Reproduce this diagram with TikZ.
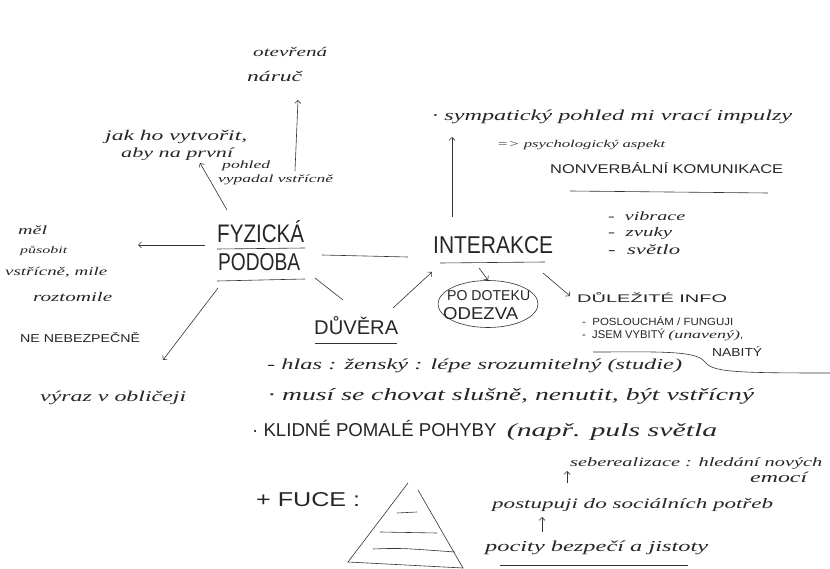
\documentclass[tikz,border=0pt]{standalone}
\usepackage{fontspec}
\usepackage{graphicx}
\usetikzlibrary{arrows.meta,shapes.geometric}
\newfontfamily\hand[FakeStretch=1.6]{Liberation Serif}
\newfontfamily\capsf{Liberation Sans}
\newcommand\hw[2]{\resizebox{#1pt}{!}{\hand\itshape #2}}
\newcommand\cw[3]{\resizebox{#1pt}{#2pt}{\capsf #3}}
\begin{document}
\begin{tikzpicture}[x=1pt,y=-1pt,
  txt/.style={inner sep=0pt,anchor=west,text=black!85},
  ln/.style={draw=black!80,line width=0.6pt},
  arr/.style={ln,-{Straight Barb[length=3pt,width=6pt]}},
  oval/.style={ellipse,draw=black!80,line width=0.6pt,minimum width=100pt,minimum height=47pt,inner sep=0pt}]
\fill[white] (0,0) rectangle (830,569);
\useasboundingbox (0,0) rectangle (830,569);
% top
\node[txt] (otev) at (253,52) {\hw{74}{otevřená}};
\node[txt] (naruc) at (247,76) {\hw{55}{náruč}};
\node[txt] (jak) at (105,137) {\hw{142}{jak ho vytvořit,}};
\node[txt] (aby) at (121,154) {\hw{112}{aby na první}};
\node[txt] (pohl) at (222,166) {\hw{48}{pohled}};
\node[txt] (vyp) at (218,180) {\hw{115}{vypadal vstřícně}};
% left
\node[txt] (mel) at (18,230) {\hw{29}{měl}};
\node[txt] (pus) at (20,251) {\hw{47}{působit}};
\node[txt] (vst) at (5,272) {\hw{102}{vstřícně, mile}};
\node[txt] (roz) at (33,297) {\hw{79}{roztomile}};
\node[txt] (nene) at (20,338) {\cw{120}{10}{NE NEBEZPEČNĚ}};
\node[txt] (vyr) at (40,398) {\hw{146}{výraz v obličeji}};
% centre
\node[txt] (fyz) at (217,232) {\cw{87}{22}{FYZICKÁ}};
\node[txt] (pod) at (218,262) {\cw{82}{17}{PODOBA}};
\node[txt] (int) at (433,245) {\cw{120}{17}{INTERAKCE}};
\node[txt] (duv) at (314,326) {\cw{84}{18}{DŮVĚRA}};
\node[oval] (ell) at (488,304) {};
\node[txt] (podot) at (447,296) {\cw{83}{10}{PO DOTEKU}};
\node[txt] (odez) at (443,314) {\cw{75}{12}{ODEZVA}};
% right
\node[txt] (sym) at (432,117) {\hw{360}{· sympatický pohled mi vrací impulzy}};
\node[txt] (psy) at (497,145) {\hw{168}{=> psychologický aspekt}};
\node[txt] (nonv) at (550,168) {\cw{233}{11}{NONVERBÁLNÍ KOMUNIKACE}};
\node[txt] (vib) at (608,216) {\hw{77}{-\ \ vibrace}};
\node[txt] (zvu) at (608,233) {\hw{64}{-\ \ zvuky}};
\node[txt] (sve) at (608,250) {\hw{72}{-\ \ světlo}};
\node[txt] (dul) at (577,298) {\cw{150}{10}{DŮLEŽITÉ INFO}};
\node[txt] (posl) at (582,321) {\cw{151}{9}{-\ \ POSLOUCHÁM / FUNGUJI}};
\node[txt] (jsem) at (582,335) {\resizebox{161pt}{!}{\capsf -\ \ JSEM VYBITÝ {\hand\itshape (unavený)},}};
\node[txt] (nab) at (712,351) {\cw{50}{10}{NABITÝ}};
% bottom
\node[txt] (hlas) at (267,366) {\hw{415}{-\ hlas : ženský : lépe srozumitelný (studie)}};
\node[txt] (musi) at (268,396) {\hw{486}{· musí se chovat slušně, nenutit, být vstřícný}};
\node[txt] (klid) at (252,430) {\resizebox{465pt}{!}{\capsf · KLIDNÉ POMALÉ POHYBY\ \ {\hand\itshape (např. puls světla}}};
\node[txt] (fce) at (256,500) {\cw{104}{14}{+ FUCE :}};
\node[txt] (sebe) at (570,463) {\hw{252}{seberealizace : hledání nových}};
\node[txt] (emoc) at (750,477) {\hw{57}{emocí}};
\node[txt] (post) at (492,505) {\hw{281}{postupuji do sociálních potřeb}};
\node[txt] (poc) at (485,548) {\hw{223}{pocity bezpečí a jistoty}};
% connector ends
\coordinate (c1a) at (295,171); \coordinate (c1b) at (298,100);
\coordinate (c2a) at (227,210); \coordinate (c2b) at (200,163);
\coordinate (c3a) at (205,245); \coordinate (c3b) at (138,245);
\coordinate (c4a) at (218,288); \coordinate (c4b) at (163,360);
\coordinate (c5a) at (322,255); \coordinate (c5b) at (408,257);
\coordinate (c6a) at (315,278); \coordinate (c6b) at (343,300);
\coordinate (c7a) at (393,308); \coordinate (c7b) at (432,272);
\coordinate (c8a) at (452,217); \coordinate (c8b) at (452,137);
\coordinate (c9a) at (479,268);
\coordinate (c10a) at (543,273); \coordinate (c10b) at (570,296);
\coordinate (c11a) at (542,532); \coordinate (c11b) at (542,517);
\coordinate (c12a) at (567,483); \coordinate (c12b) at (567,471);
\draw[arr] (c1a) -- (c1b);
\draw[arr] (c2a) -- (c2b);
\draw[arr] (c3a) -- (c3b);
\draw[arr] (c4a) -- (c4b);
\draw[ln] (c5a) -- (c5b);
\draw[ln] (c6a) -- (c6b);
\draw[arr] (c7a) -- (c7b);
\draw[arr] (c8a) -- (c8b);
\draw[arr] (c9a) -- (ell.north);
\draw[arr] (c10a) -- (c10b);
\draw[arr] (c11a) -- (c11b);
\draw[arr] (c12a) -- (c12b);
% underlines
\draw[ln] (217,249) -- (305,248);
\draw[ln] (217,281) -- (305,279);
\draw[ln] (440,263) -- (545,262);
\draw[ln] (315,343) -- (397,343);
\draw[ln] (570,191) -- (768,193);
\draw[ln] (500,565) -- (688,565);
% curve
\draw[ln] (593,352) .. controls (650,352) and (695,350) .. (704,361) .. controls (712,372) and (730,373) .. (830,373);
% pyramid
\draw[ln] (408,483) -- (348,562) -- (463,568) -- (418,490);
\draw[ln] (397,513) -- (417,512);
\draw[ln] (380,532) -- (437,533);
\draw[ln] (373,549) .. controls (400,548) .. (455,552);
\end{tikzpicture}
\end{document}
